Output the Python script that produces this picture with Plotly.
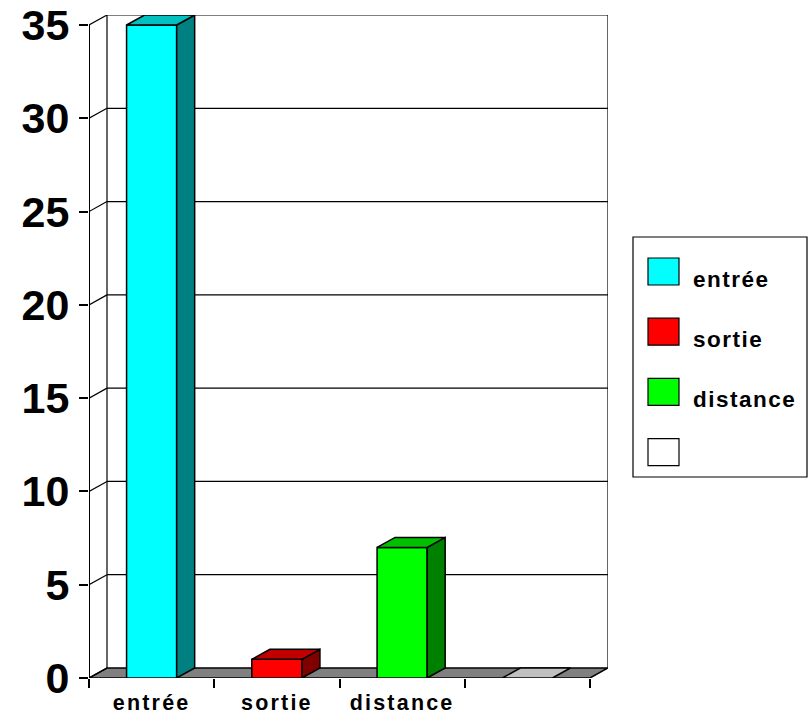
import plotly.graph_objects as go

# ---- data ----
categories = ["entrée", "sortie", "distance", ""]
values = [35, 1, 7, 0]
series_names = ["entrée", "sortie", "distance", ""]
y_ticks = [0, 5, 10, 15, 20, 25, 30, 35]

# ---- styles ----
front_colors = ["#00FFFF", "#FF0000", "#00FF00", "#FFFFFF"]
top_colors = ["#00C0C0", "#C00000", "#00C000", "#C0C0C0"]
side_colors = ["#008080", "#800000", "#008000", "#808080"]
floor_color = "#808080"
FONT = "Liberation Sans, Arial, sans-serif"

# ---- page geometry (pixels) ----
W, H = 808, 715
ML, MR, MT, MB = 89, 200, 15, 37
plot_w = W - ML - MR
plot_h = H - MT - MB
depth_x_px, depth_y_px = 18, 10

n = len(categories)
y_max = max(y_ticks)
px_per_cat = (plot_w - depth_x_px) / n
px_per_unit = (plot_h - depth_y_px) / y_max
dx = depth_x_px / px_per_cat          # depth offset in x-axis units
dy = depth_y_px / px_per_unit         # depth offset in y-axis units
x0, x1 = -0.5, n - 0.5
bar_w = 0.4

x_range = [x0, x1 + dx]
y_range = [0, y_max + dy]

fig = go.Figure()


def poly(xs, ys, fill, width=1.5):
    fig.add_trace(go.Scatter(
        x=list(xs) + [xs[0]], y=list(ys) + [ys[0]],
        mode="lines", fill="toself", fillcolor=fill,
        line=dict(color="black", width=width),
        hoverinfo="skip", showlegend=False, xaxis="x", yaxis="y"))


def lines(xs, ys, width=1.0):
    fig.add_trace(go.Scatter(
        x=xs, y=ys, mode="lines", line=dict(color="black", width=width),
        hoverinfo="skip", showlegend=False, xaxis="x", yaxis="y"))


# floor
poly([x0, x1, x1 + dx, x0 + dx], [0, 0, dy, dy], floor_color)

# back wall gridlines, left wall diagonals and wall edges
gx, gy = [], []
for v in y_ticks[1:]:
    gx += [x0 + dx, x1 + dx, None]
    gy += [v + dy, v + dy, None]
for v in y_ticks:
    gx += [x0, x0 + dx, None]
    gy += [v, v + dy, None]
gx += [x0 + dx, x0 + dx, None, x1 + dx, x1 + dx, None]
gy += [dy, y_max + dy, None, dy, y_max + dy, None]
lines(gx, gy, 1.2)

# front value axis line
lines([x0, x0], [0, y_max], 2)

# 3D bars: front face, top face, side face
for i, v in enumerate(values):
    l, r = i - bar_w / 2, i + bar_w / 2
    if v > 0:
        poly([l, r, r, l], [0, 0, v, v], front_colors[i])
        poly([r, r + dx, r + dx, r], [0, dy, v + dy, v], side_colors[i])
    poly([l, r, r + dx, l + dx], [v, v, v + dy, v + dy], top_colors[i])

fig.update_layout(
    width=W, height=H,
    margin=dict(l=ML, r=MR, t=MT, b=MB, pad=0, autoexpand=False),
    paper_bgcolor="white", plot_bgcolor="white",
    showlegend=False,
    font=dict(family=FONT, color="black"),
    xaxis=dict(
        range=x_range, showgrid=False, zeroline=False, showline=False,
        tickmode="array", tickvals=[x0 + k for k in range(n + 1)],
        ticktext=[""] * (n + 1), ticks="outside", ticklen=9, tickwidth=1.5,
        tickcolor="black", fixedrange=True, automargin=False),
    xaxis2=dict(
        range=x_range, overlaying="x", anchor="y", side="bottom",
        showgrid=False, zeroline=False, showline=False,
        tickmode="array", tickvals=list(range(n)), ticktext=categories,
        ticks="", tickfont=dict(size=21.5, family=FONT, weight="bold"),
        ticklabelstandoff=9, fixedrange=True, automargin=False),
    yaxis=dict(
        range=y_range, showgrid=False, zeroline=False, showline=False,
        tickmode="array", tickvals=y_ticks, ticks="outside", ticklen=9,
        tickwidth=1.5, tickcolor="black",
        tickfont=dict(size=43, family=FONT, weight="bold"),
        ticklabelstandoff=1, fixedrange=True, automargin=False),
)

# make xaxis2 carry its labels
fig.add_trace(go.Scatter(x=[None], y=[None], xaxis="x2", yaxis="y",
                         showlegend=False, hoverinfo="skip"))


# ---- legend box ----
def xp(px):
    return (px - ML) / plot_w


def yp(py):
    return (H - MB - py) / plot_h


legend_box = dict(x0=633, x1=807, y0=237, y1=477)
fig.add_shape(type="rect", xref="paper", yref="paper",
              x0=xp(legend_box["x0"]), x1=xp(legend_box["x1"]),
              y0=yp(legend_box["y1"]), y1=yp(legend_box["y0"]),
              line=dict(color="black", width=1.2), fillcolor="white",
              layer="below")
row_top, row_gap, sw_w, sw_h = 258, 60.2, 31, 27
for k, name in enumerate(series_names):
    top = row_top + k * row_gap
    fig.add_shape(type="rect", xref="paper", yref="paper",
                  x0=xp(648), x1=xp(648 + sw_w),
                  y0=yp(top + sw_h), y1=yp(top),
                  line=dict(color="black", width=1.2),
                  fillcolor=front_colors[k])
    if name:
        fig.add_annotation(xref="paper", yref="paper",
                           x=xp(691), y=yp(top + sw_h - 6),
                           xanchor="left", yanchor="middle", align="left",
                           text=name, showarrow=False,
                           font=dict(size=22.5, family=FONT, weight="bold"))

spacing_js = """
document.querySelectorAll('.x2tick text').forEach(function(t){
  t.style.letterSpacing = '2.2px';
});
document.querySelectorAll('.annotation-text').forEach(function(t){
  t.style.letterSpacing = '1.5px';
});
"""
fig.write_html("out.html", post_script=spacing_js,
               config={"displayModeBar": False})
